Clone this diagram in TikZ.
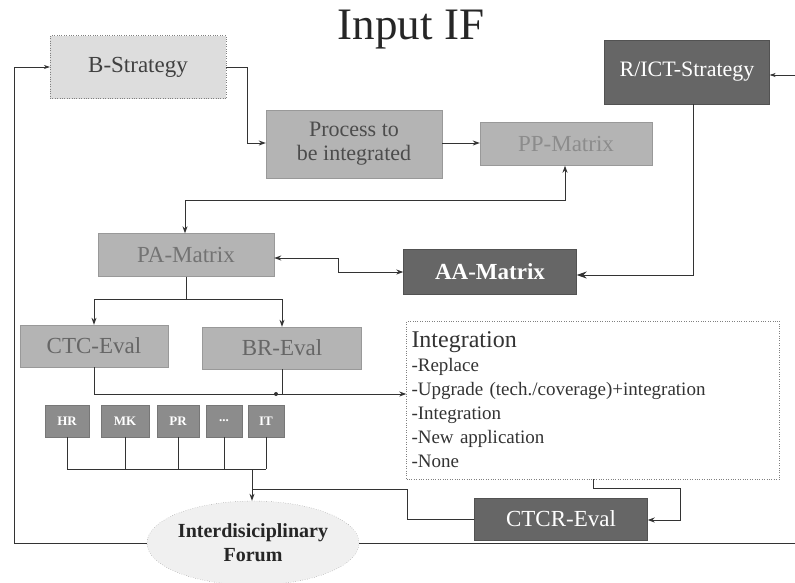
\documentclass[tikz,border=0pt]{standalone}
\usepackage{fontspec}
\setmainfont{Liberation Serif}
\newfontfamily\tnr{Liberation Serif}
\usetikzlibrary{shapes.geometric,arrows.meta,calc}
\definecolor{lightbox}{HTML}{DDDDDD}
\definecolor{midbox}{HTML}{B4B4B4}
\definecolor{darkbox}{HTML}{666666}
\definecolor{smallbox}{HTML}{8C8C8C}
\definecolor{linec}{HTML}{333333}
\tikzset{
  base/.style={rectangle, inner sep=2pt, align=center, font=\tnr\fontsize{23}{26}\selectfont},
  lightnode/.style={base, fill=lightbox, draw=gray, dotted, text=black!75},
  midnode/.style={base, fill=midbox, draw=midbox!85!black, text=black!60},
  darknode/.style={base, fill=darkbox, draw=darkbox!80!black, text=white},
  smallnode/.style={rectangle, fill=smallbox, draw=smallbox!85!black, text=white, font=\tnr\fontsize{13}{15}\selectfont\bfseries, minimum height=32pt},
  conn/.style={draw=linec, line width=0.9pt, -{Stealth[length=7pt,width=5pt]}},
  plain/.style={draw=linec, line width=0.9pt},
  thinconn/.style={draw=linec, line width=0.6pt, -{Stealth[length=6pt,width=4pt]}},
}
\begin{document}
\begin{tikzpicture}[x=1pt,y=-1pt]
\useasboundingbox (0,0) rectangle (795,582);
% title
\node[text=black!85] (title) at (411,30) {\tnr\fontsize{45}{50}\selectfont Input IF};
% boxes
\node[lightnode, minimum width=176pt, minimum height=63pt] (bstrat) at (138,67) {B-Strategy};
\node[darknode, minimum width=165pt, minimum height=64pt, font=\tnr\fontsize{22}{25}\selectfont] (rict) at (687,72) {R/ICT-Strategy};
\node[midnode, minimum width=176pt, minimum height=68pt, text=black!70, font=\tnr\fontsize{22}{24}\selectfont] (proc) at (354,144) {Process to\\be integrated};
\node[midnode, minimum width=172pt, minimum height=43pt, text=black!45] (pp) at (566,144) {PP-Matrix};
\node[midnode, minimum width=176pt, minimum height=43pt, text=black!55] (pa) at (186,255) {PA-Matrix};
\node[darknode, minimum width=173pt, minimum height=45pt, font=\tnr\fontsize{23}{26}\selectfont\bfseries] (aa) at (490,272) {AA-Matrix};
\node[midnode, minimum width=148pt, minimum height=42pt] (ctc) at (94,346) {CTC-Eval};
\node[midnode, minimum width=159pt, minimum height=42pt] (br) at (282,348) {BR-Eval};
\node[rectangle, draw=gray, dotted, fill=white, minimum width=373pt, minimum height=158pt, text width=363pt, align=left, inner sep=5pt, text=black!80, font=\tnr\fontsize{19}{24}\selectfont] (integ) at (593,400)
  {{\fontsize{24}{24}\selectfont Integration}\\
   -Replace\\
   -Upgrade (tech./coverage)+integration\\
   -Integration\\
   -New application\\
   -None};
\node[smallnode, minimum width=44pt] (hr) at (67,421) {HR};
\node[smallnode, minimum width=48pt] (mk) at (125,421) {MK};
\node[smallnode, minimum width=42pt] (pr) at (178,421) {PR};
\node[smallnode, minimum width=36pt] (dots) at (224,421) {...};
\node[smallnode, minimum width=36pt] (it) at (266,421) {IT};
\node[darknode, minimum width=173pt, minimum height=42pt] (ctcr) at (561,519) {CTCR-Eval};
\node[ellipse, draw=gray, dotted, fill=lightbox!45, minimum width=185pt, minimum height=84pt, inner sep=0pt, align=center, font=\tnr\fontsize{20}{24}\selectfont\bfseries, text=black!85] (forum) at (253,543) {Interdisiciplinary\\Forum};
% free ends
\coordinate (rightend) at (795,543);
\coordinate (rightin) at (795,75);
% connectors
\draw[thinconn] (forum.west) -- (14,543) -- (14,67) -- (bstrat.west);
\draw[conn] (bstrat.east) -- (247,67) -- (247,143) -- (proc.west |- 0,143);
\draw[conn] (proc.east |- 0,143) -- (pp.west |- 0,143);
\draw[conn, {Stealth[length=7pt,width=5pt]}-{Stealth[length=7pt,width=5pt]}] (pa.north -| 185,0) -- (185,200) -- (565,200) -- (pp.south -| 565,0);
\draw[conn, {Stealth[length=7pt,width=5pt]}-{Stealth[length=7pt,width=5pt]}] (pa.east |- 0,258) -- (338,258) -- (338,272) -- (aa.west);
\draw[conn, -{Stealth[length=10pt,width=7pt]}] (rict.south -| 693,0) -- (693,275) -- (aa.east |- 0,275);
\draw[plain] (pa.south) -- (186,299);
\draw[conn] (94,299) -- (ctc.north);
\draw[conn] (94,299) -- (282,299) -- (br.north);
\draw[plain] (ctc.south) -- (94,394) -- (282,394);
\draw[conn] (br.south) -- (282,394) -- (integ.west |- 0,394);
\fill[linec] (276,394) circle (2pt);
\foreach \b in {hr,mk,pr,dots,it} { \draw[plain] (\b.south) -- (\b.south |- 0,469); }
\draw[plain] (hr.south |- 0,469) -- (it.south |- 0,469);
\draw[conn] (252,469) -- (forum.north -| 252,0);
\draw[plain] (ctcr.west) -- (407,519) -- (407,489) -- (252,489);
\draw[conn] (integ.south) -- (593,488) -- (680,488) -- (680,520) -- (ctcr.east |- 0,520);
\draw[plain, line width=0.6pt] (forum.east) -- (rightend);
\draw[thinconn] (rightin) -- (rict.east |- 0,75);
\end{tikzpicture}
\end{document}
